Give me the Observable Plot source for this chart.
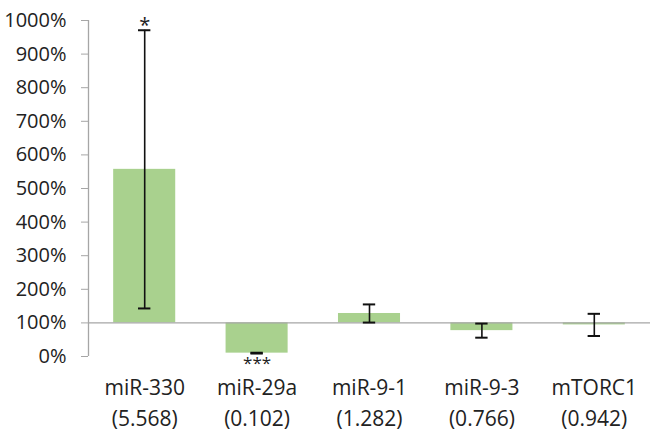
<!DOCTYPE html>
<html>
<head>
<meta charset="utf-8">
<script src="https://cdn.jsdelivr.net/npm/d3@7"></script>
<script src="https://cdn.jsdelivr.net/npm/@observablehq/plot@0.6"></script>
<style>
  body { margin: 0; background: #fff; }
</style>
</head>
<body>
<div id="chart"></div>
<script>
const categories = ["miR-330", "miR-29a", "miR-9-1", "miR-9-3", "mTORC1"];
const ratioLabels = ["5.568", "0.102", "1.282", "0.766", "0.942"];
const means = [557, 10, 128, 77, 94];
const errors = [414, 1.2, 27, 21, 33];
const stars = ["*", "***", "", "", ""];
const yTicks = [0, 100, 200, 300, 400, 500, 600, 700, 800, 900, 1000];
const baseline = 100;

const rows = categories.map((c, i) => ({
  i, c, mean: means[i], lo: means[i] - errors[i], hi: means[i] + errors[i], star: stars[i]
}));

const gray = "#a6a6a6";
const halfBar = 0.276;
const halfCap = 0.055;

const chart = Plot.plot({
  width: 657,
  height: 435,
  marginLeft: 88,
  marginRight: 7,
  marginTop: 20,
  marginBottom: 79,
  style: { fontFamily: "'Open Sans', sans-serif", fontSize: "20px", background: "#fff", color: "#222" },
  x: { domain: [-0.5, 4.5], axis: null },
  y: { domain: [0, 1000], axis: null },
  marks: [
    Plot.rectY(rows, { x1: d => d.i - halfBar, x2: d => d.i + halfBar, y1: baseline, y2: "mean", fill: "#a9d18e" }),
    Plot.ruleY([baseline], { stroke: gray, strokeWidth: 1.3 }),
    Plot.ruleX([-0.5], { y1: 0, y2: 1000, stroke: gray, strokeWidth: 1.3 }),
    Plot.axisY({ ticks: yTicks, tickFormat: d => d + "%", tickSize: 7, tickPadding: 15, stroke: gray, fontSize: 20, fill: "#222", label: null }),
    Plot.axisX({ ticks: [0, 1, 2, 3, 4], tickFormat: i => categories[i] + "\n(" + ratioLabels[i] + ")", tickSize: 0, tickPadding: 17, lineHeight: 1.46, fontSize: 21, fill: "#222", label: null }),
    Plot.ruleX(rows, { x: "i", y1: "lo", y2: "hi", stroke: "#111", strokeWidth: 1.6 }),
    Plot.ruleY(rows, { y: "hi", x1: d => d.i - halfCap, x2: d => d.i + halfCap, stroke: "#111", strokeWidth: 2 }),
    Plot.ruleY(rows, { y: "lo", x1: d => d.i - halfCap, x2: d => d.i + halfCap, stroke: "#111", strokeWidth: 2 }),
    Plot.text(rows.filter(d => d.i === 0), { x: "i", y: "hi", text: "star", dy: -5, fontSize: 20, fill: "#222" }),
    Plot.text(rows.filter(d => d.i === 1), { x: "i", y: "lo", text: "star", dy: 10, fontSize: 17, fill: "#222" })
  ]
});
document.getElementById("chart").appendChild(chart);
</script>
</body>
</html>
